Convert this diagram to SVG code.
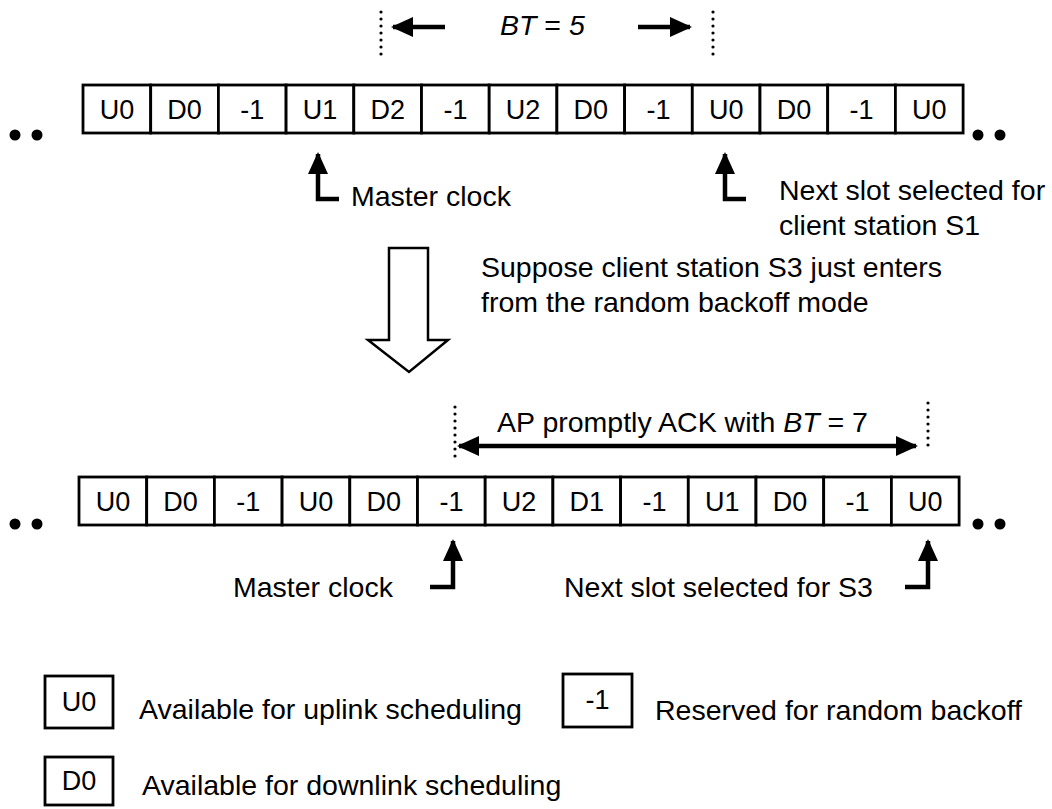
<svg xmlns="http://www.w3.org/2000/svg" width="1052" height="809" viewBox="0 0 1052 809">
<style>
.cell{fill:#fff;stroke:#000;stroke-width:2.8}
.ct{font-family:"Liberation Sans",Arial,sans-serif;font-size:27px;text-anchor:middle;fill:#000}
.lbl{font-family:"Liberation Sans",Arial,sans-serif;font-size:28.5px;fill:#000}
.it{font-style:italic}
.dotline{stroke:#000;stroke-width:3.2;stroke-linecap:round;stroke-dasharray:0 7;fill:none}
.arr{stroke:#000;stroke-width:4.5;fill:none}
.ell{fill:#000}
.hollow{fill:#fff;stroke:#000;stroke-width:2.5;stroke-linejoin:miter}
</style>
<defs>
<marker id="head" viewBox="0 0 22 20" refX="20" refY="10" markerWidth="22" markerHeight="20" markerUnits="userSpaceOnUse" orient="auto-start-reverse">
<path d="M0,0 L22,10 L0,20 z" fill="#000"/>
</marker>
</defs>

<!-- slot sequence before the new station joins -->
<g id="row-top">
<g class="cells">
<rect class="cell" x="83" y="85" width="67.7" height="48"/>
<rect class="cell" x="150.7" y="85" width="67.7" height="48"/>
<rect class="cell" x="218.4" y="85" width="67.7" height="48"/>
<rect class="cell" x="286.1" y="85" width="67.7" height="48"/>
<rect class="cell" x="353.8" y="85" width="67.7" height="48"/>
<rect class="cell" x="421.5" y="85" width="67.7" height="48"/>
<rect class="cell" x="489.2" y="85" width="67.7" height="48"/>
<rect class="cell" x="556.9" y="85" width="67.7" height="48"/>
<rect class="cell" x="624.6" y="85" width="67.7" height="48"/>
<rect class="cell" x="692.3" y="85" width="67.7" height="48"/>
<rect class="cell" x="760" y="85" width="67.7" height="48"/>
<rect class="cell" x="827.7" y="85" width="67.7" height="48"/>
<rect class="cell" x="895.4" y="85" width="67.7" height="48"/>
</g>
<g class="ct">
<text x="116.9" y="119">U0</text>
<text x="184.6" y="119">D0</text>
<text x="252.3" y="119">-1</text>
<text x="320" y="119">U1</text>
<text x="387.7" y="119">D2</text>
<text x="455.4" y="119">-1</text>
<text x="523.1" y="119">U2</text>
<text x="590.8" y="119">D0</text>
<text x="658.5" y="119">-1</text>
<text x="726.2" y="119">U0</text>
<text x="793.9" y="119">D0</text>
<text x="861.6" y="119">-1</text>
<text x="929.3" y="119">U0</text>
</g>
<circle class="ell" cx="15" cy="135" r="5.5"/>
<circle class="ell" cx="37" cy="135" r="5.5"/>
<circle class="ell" cx="978" cy="135" r="5.5"/>
<circle class="ell" cx="1000" cy="135" r="5.5"/>
</g>

<!-- slot sequence after the AP acknowledges S3 -->
<g id="row-bottom">
<g class="cells">
<rect class="cell" x="79" y="477" width="67.7" height="48"/>
<rect class="cell" x="146.7" y="477" width="67.7" height="48"/>
<rect class="cell" x="214.4" y="477" width="67.7" height="48"/>
<rect class="cell" x="282.1" y="477" width="67.7" height="48"/>
<rect class="cell" x="349.8" y="477" width="67.7" height="48"/>
<rect class="cell" x="417.5" y="477" width="67.7" height="48"/>
<rect class="cell" x="485.2" y="477" width="67.7" height="48"/>
<rect class="cell" x="552.9" y="477" width="67.7" height="48"/>
<rect class="cell" x="620.6" y="477" width="67.7" height="48"/>
<rect class="cell" x="688.3" y="477" width="67.7" height="48"/>
<rect class="cell" x="756" y="477" width="67.7" height="48"/>
<rect class="cell" x="823.7" y="477" width="67.7" height="48"/>
<rect class="cell" x="891.4" y="477" width="67.7" height="48"/>
</g>
<g class="ct">
<text x="112.9" y="511">U0</text>
<text x="180.6" y="511">D0</text>
<text x="248.3" y="511">-1</text>
<text x="316" y="511">U0</text>
<text x="383.7" y="511">D0</text>
<text x="451.4" y="511">-1</text>
<text x="519.1" y="511">U2</text>
<text x="586.8" y="511">D1</text>
<text x="654.5" y="511">-1</text>
<text x="722.2" y="511">U1</text>
<text x="789.9" y="511">D0</text>
<text x="857.6" y="511">-1</text>
<text x="925.3" y="511">U0</text>
</g>
<circle class="ell" cx="15" cy="524" r="5.5"/>
<circle class="ell" cx="37" cy="524" r="5.5"/>
<circle class="ell" cx="978" cy="524" r="5.5"/>
<circle class="ell" cx="1000" cy="524" r="5.5"/>
</g>

<!-- transition arrow -->
<g id="transition">
<path class="hollow" d="M389,248 L428,248 L428,340 L448,340 L409,372 L368,340 L389,340 Z"/>
</g>

<!-- annotations -->
<g id="labels" class="lbl">
<text x="500" y="35"><tspan class="it">BT</tspan> = <tspan class="it">5</tspan></text>
<text x="351" y="206">Master clock</text>
<text x="779" y="200">Next slot selected for</text>
<text x="779" y="235">client station S1</text>
<text x="481" y="277">Suppose client station S3 just enters</text>
<text x="481" y="312">from the random backoff mode</text>
<text x="497" y="432">AP promptly ACK with <tspan class="it">BT</tspan> = 7</text>
<text x="233" y="597">Master clock</text>
<text x="564" y="597">Next slot selected for S3</text>
</g>

<!-- legend -->
<g id="legend">
<rect class="cell" x="45" y="676" width="68" height="52"/>
<text class="ct" x="79" y="711">U0</text>
<text class="lbl" x="139" y="719">Available for uplink scheduling</text>
<rect class="cell" x="563" y="674" width="69" height="53"/>
<text class="ct" x="597.5" y="709">-1</text>
<text class="lbl" x="655" y="720">Reserved for random backoff</text>
<rect class="cell" x="45" y="757" width="68" height="48"/>
<text class="ct" x="79" y="790">D0</text>
<text class="lbl" x="142" y="795">Available for downlink scheduling</text>
</g>

<!-- connectors: spans, pointers and boundary marks -->
<g id="connectors">
<line class="dotline" x1="381" y1="12" x2="381" y2="61"/>
<line class="dotline" x1="713" y1="12" x2="713" y2="61"/>
<line class="arr" x1="445" y1="27" x2="393" y2="27" marker-end="url(#head)"/>
<line class="arr" x1="638" y1="27" x2="690" y2="27" marker-end="url(#head)"/>
<polyline class="arr" points="339,199 318,199 318,154" marker-end="url(#head)"/>
<polyline class="arr" points="746,199 725,199 725,154" marker-end="url(#head)"/>
<line class="dotline" x1="455" y1="407" x2="455" y2="459"/>
<line class="dotline" x1="928" y1="403" x2="928" y2="452"/>
<line class="arr" x1="459" y1="446" x2="916" y2="446" marker-start="url(#head)" marker-end="url(#head)"/>
<polyline class="arr" points="430,587 453,587 453,541" marker-end="url(#head)"/>
<polyline class="arr" points="905,587 928,587 928,541" marker-end="url(#head)"/>
</g>
</svg>
